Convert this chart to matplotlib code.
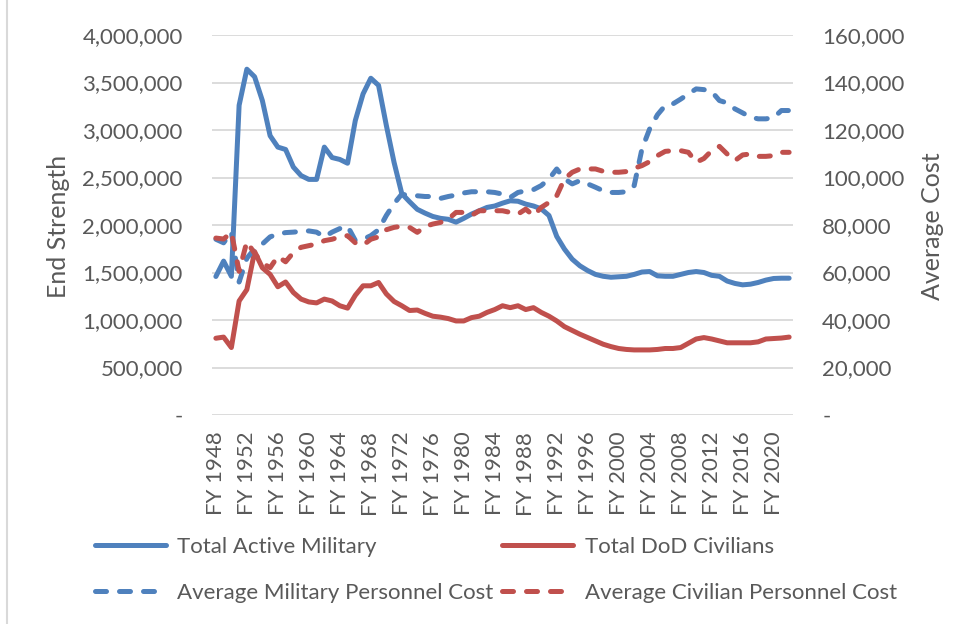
import numpy as np
import matplotlib
matplotlib.use("Agg")
import matplotlib.pyplot as plt
from matplotlib.lines import Line2D
from matplotlib.ticker import FuncFormatter, MultipleLocator

years = list(range(1948, 2023))

# end strength (people)
active_military = [
    1458000, 1620000, 1460000, 3260000, 3640000, 3560000, 3310000, 2940000, 2820000, 2795000,
    2610000, 2520000, 2480000, 2480000, 2820000, 2710000, 2690000, 2650000, 3100000, 3380000,
    3545000, 3470000, 3050000, 2660000, 2330000, 2245000, 2165000, 2125000, 2090000, 2070000,
    2060000, 2030000, 2070000, 2115000, 2150000, 2185000, 2200000, 2230000, 2255000, 2250000,
    2220000, 2200000, 2170000, 2100000, 1880000, 1746000, 1640000, 1570000, 1520000, 1480000,
    1460000, 1450000, 1455000, 1460000, 1480000, 1505000, 1510000, 1465000, 1460000, 1460000,
    1480000, 1500000, 1510000, 1500000, 1470000, 1460000, 1410000, 1385000, 1370000, 1377000,
    1395000, 1420000, 1437000, 1440000, 1440000,
]
dod_civilians = [
    808000, 820000, 710000, 1200000, 1320000, 1720000, 1550000, 1480000, 1350000, 1400000,
    1290000, 1220000, 1190000, 1180000, 1220000, 1200000, 1150000, 1125000, 1260000, 1360000,
    1360000, 1395000, 1275000, 1195000, 1150000, 1100000, 1105000, 1070000, 1040000, 1030000,
    1015000, 990000, 990000, 1025000, 1040000, 1080000, 1110000, 1150000, 1130000, 1150000,
    1110000, 1130000, 1080000, 1040000, 990000, 930000, 890000, 850000, 815000, 780000,
    745000, 720000, 700000, 690000, 685000, 685000, 685000, 690000, 700000, 700000,
    710000, 755000, 800000, 815000, 800000, 780000, 760000, 760000, 760000, 760000,
    770000, 800000, 805000, 810000, 820000,
]

# average cost per person
avg_military_cost = [
    74000, 72500, 77000, 56000, 66000, 70000, 72000, 75000, 76200, 76800,
    77000, 77300, 77500, 77000, 75000, 77000, 78500, 79500, 73500, 74000,
    75500, 78000, 84000, 89000, 93000, 92300, 92300, 92000, 92000, 91200,
    92000, 92600, 93500, 94000, 94000, 94000, 93700, 93000, 91600, 93700,
    94400, 94900, 96600, 99400, 103600, 99400, 97300, 98700, 97300, 95900,
    94400, 93700, 93700, 94000, 96600, 112000, 120500, 126400, 130300, 131000,
    133000, 135200, 137300, 137000, 136200, 132400, 131400, 128900, 127200, 125400,
    124700, 124700, 125200, 128200, 128200,
]
avg_civilian_cost = [
    74500, 74100, 76900, 60500, 73000, 68000, 64000, 62000, 66800, 64500,
    68400, 70600, 71300, 72000, 73400, 74000, 75000, 75500, 72500, 71500,
    74000, 75000, 78000, 79000, 79500, 79000, 76900, 79400, 80400, 81100,
    82500, 85300, 85300, 84000, 86000, 86000, 86000, 86000, 85300, 84600,
    86700, 83900, 87400, 89500, 92300, 99400, 102200, 103600, 103600, 103600,
    102600, 102200, 102200, 102500, 103900, 105000, 106700, 109200, 111000, 111300,
    111300, 110600, 106400, 108000, 111300, 113100, 109900, 107100, 109500, 109900,
    108900, 108900, 109200, 110600, 110600,
]

tick_labels = ["FY " + str(y) for y in years]

blue = "#4F81BD"
red = "#C0504D"
grid_col = "#D9D9D9"
text_col = "#595959"

plt.rcParams["font.family"] = ["Lato", "DejaVu Sans"]
plt.rcParams["font.size"] = 16

fig = plt.figure(figsize=(9.67, 6.24), dpi=100)
ax = fig.add_axes([212 / 967, 1 - 415 / 624, (793 - 212) / 967, (415 - 35) / 624])
ax2 = ax.twinx()

x = np.arange(len(years))
lw = 3.6
dash = (0, (2.2, 2.6))

l1, = ax.plot(x, active_military, color=blue, lw=lw, solid_joinstyle="round", solid_capstyle="round")
l2, = ax.plot(x, dod_civilians, color=red, lw=lw, solid_joinstyle="round", solid_capstyle="round")
l3, = ax2.plot(x, avg_military_cost, color=blue, lw=lw, linestyle=dash, dash_capstyle="round",
               dash_joinstyle="round")
l4, = ax2.plot(x, avg_civilian_cost, color=red, lw=lw, linestyle=dash, dash_capstyle="round",
               dash_joinstyle="round")

ax.set_xlim(-0.5, len(years) - 0.5)
ax.set_ylim(0, 4000000)
ax2.set_ylim(0, 160000)
ax.yaxis.set_major_locator(MultipleLocator(500000))
ax2.yaxis.set_major_locator(MultipleLocator(20000))

fmt = FuncFormatter(lambda v, p: "-" if v == 0 else f"{v:,.0f}")
ax.yaxis.set_major_formatter(fmt)
ax2.yaxis.set_major_formatter(fmt)

ax.set_xticks(x[::4])
ax.set_xticklabels(tick_labels[::4], rotation=90)

ax.grid(axis="y", color=grid_col, lw=1.3)
ax.set_axisbelow(True)
for a in (ax, ax2):
    for s in a.spines.values():
        s.set_visible(False)
ax.tick_params(axis="y", length=0, pad=21, colors=text_col)
ax2.tick_params(axis="y", length=0, pad=21, colors=text_col)
ax.tick_params(axis="x", length=0, pad=12, colors=text_col)

fig.text(58 / 967, 1 - 226 / 624, "End Strength", rotation=90, ha="center", va="center",
         color=text_col, fontsize=18)
fig.text(932 / 967, 1 - 226 / 624, "Average Cost", rotation=90, ha="center", va="center",
         color=text_col, fontsize=18)

leg = fig.legend([l1, l3, l2, l4],
                 ["Total Active Military", "Average Military Personnel Cost",
                  "Total DoD Civilians", "Average Civilian Personnel Cost"],
                 ncol=2, frameon=False, loc="upper left",
                 bbox_to_anchor=(95 / 967, 1 - 537 / 624),
                 handlelength=3.2, handletextpad=0.5, columnspacing=0.4, labelspacing=1.15,
                 borderaxespad=0, borderpad=0)
for t in leg.get_texts():
    t.set_color(text_col)

# thin frame line down the left edge
fig.add_artist(Line2D([7 / 967, 7 / 967], [0, 1], color=grid_col, lw=1.5))

fig.savefig("out.png", dpi=100)
